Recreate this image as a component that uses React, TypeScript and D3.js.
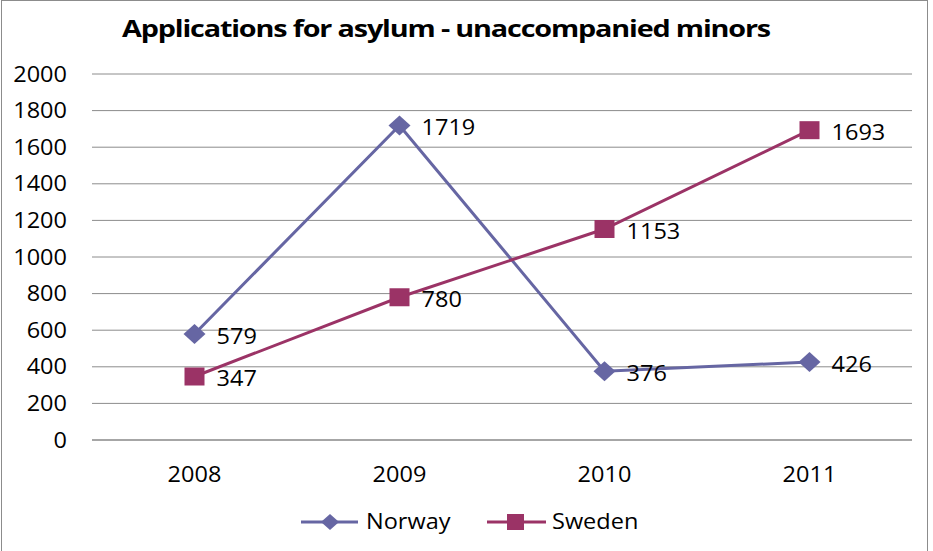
import React from "react";
import * as d3 from "d3";

const years = ["2008", "2009", "2010", "2011"];
const norway = [579, 1719, 376, 426];
const sweden = [347, 780, 1153, 1693];
const yTicks = [0, 200, 400, 600, 800, 1000, 1200, 1400, 1600, 1800, 2000];
const title = "Applications for asylum - unaccompanied minors";

const W = 933, H = 551;
const plot = { left: 92, right: 912, top: 74, bottom: 440 };
const NCOL = "#6666A3";
const SCOL = "#9B3366";
const FONT = "'Open Sans', 'Noto Sans', sans-serif";
const SX = 1.12;

function T(props: { x: number; y: number; anchor?: string; size?: number; children: React.ReactNode }) {
  const { x, y, anchor = "start", size = 21, children } = props;
  return (
    <text
      transform={`translate(${x},${y}) scale(${SX},1)`}
      textAnchor={anchor}
      dominantBaseline="middle"
      fontFamily={FONT}
      fontSize={size}
      fill="#000"
    >
      {children}
    </text>
  );
}

function Title() {
  const ref = React.useRef<SVGTextElement>(null);
  const [sx, setSx] = React.useState(1.12);
  React.useLayoutEffect(() => {
    if (ref.current) {
      const b = ref.current.getBBox();
      if (b.width > 0) setSx(648 / b.width);
    }
  }, []);
  return (
    <text
      ref={ref}
      transform={`translate(446,31) scale(${sx},1)`}
      textAnchor="middle"
      dominantBaseline="middle"
      fontFamily={FONT}
      fontSize={22.5}
      fontWeight="bold"
      letterSpacing={-0.9}
      fill="#000"
    >
      {title}
    </text>
  );
}

export default function App() {
  const x = d3.scaleBand<string>().domain(years).range([plot.left, plot.right]);
  const y = d3.scaleLinear().domain([0, 2000]).range([plot.bottom, plot.top]);
  const cx = (d: string) => (x(d) as number) + x.bandwidth() / 2;
  const line = d3.line<number>().x((_, i) => cx(years[i])).y((v) => y(v));

  const diamond = (px: number, py: number, w = 11, h = 10) =>
    `M${px},${py - h}L${px + w},${py}L${px},${py + h}L${px - w},${py}Z`;

  return (
    <svg width={W} height={H} style={{ position: "absolute", left: 0, top: 0, background: "#fff" }}>
      <rect x={1.5} y={0.5} width={926} height={H + 5} fill="#fff" stroke="#8c8c8c" strokeWidth={1} />
      <Title />
      {yTicks.map((t) => (
        <g key={t}>
          <line x1={plot.left} x2={plot.right} y1={y(t)} y2={y(t)} stroke={t === 0 ? "#a6a6a6" : "#8c8c8c"} strokeWidth={t === 0 ? 2 : 1} />
          <T x={67} y={y(t) + 2} anchor="end">{t}</T>
        </g>
      ))}
      {years.map((yr) => (
        <T key={yr} x={cx(yr)} y={476} anchor="middle">{yr}</T>
      ))}
      <path d={line(norway) || ""} fill="none" stroke={NCOL} strokeWidth={3} />
      <path d={line(sweden) || ""} fill="none" stroke={SCOL} strokeWidth={3} />
      {norway.map((v, i) => (
        <path key={"n" + i} d={diamond(cx(years[i]), y(v))} fill={NCOL} />
      ))}
      {sweden.map((v, i) => (
        <rect key={"s" + i} x={cx(years[i]) - 10} y={y(v) - 9} width={20} height={18} fill={SCOL} />
      ))}
      {norway.map((v, i) => (
        <T key={"nl" + i} x={cx(years[i]) + 22} y={y(v) + 4}>{v}</T>
      ))}
      {sweden.map((v, i) => (
        <T key={"sl" + i} x={cx(years[i]) + 22} y={y(v) + 4}>{v}</T>
      ))}
      <g>
        <line x1={301} x2={358} y1={522} y2={522} stroke={NCOL} strokeWidth={3} />
        <path d={diamond(330, 522, 9, 8)} fill={NCOL} />
        <T x={366} y={523}>Norway</T>
        <line x1={487} x2={546} y1={522} y2={522} stroke={SCOL} strokeWidth={3} />
        <rect x={507} y={514} width={17} height={16} fill={SCOL} />
        <T x={552} y={523}>Sweden</T>
      </g>
    </svg>
  );
}
